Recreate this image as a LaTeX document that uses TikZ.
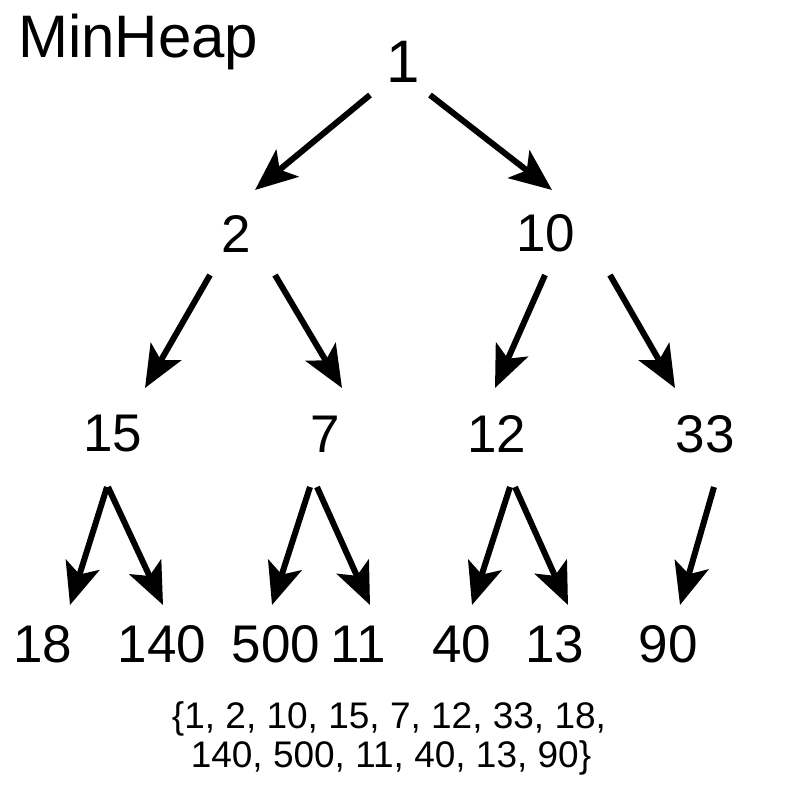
\documentclass[tikz,border=0pt]{standalone}
\usepackage{fontspec}
\setmainfont{Liberation Sans}
\usetikzlibrary{arrows.meta}
\begin{document}
\begin{tikzpicture}[x=1pt,y=-1pt,
  val/.style={inner sep=0pt,font=\fontsize{53}{60}\selectfont},
  conn/.style={line width=6pt,-{Stealth[length=42pt,width=35pt,inset=10pt]}},
  list/.style={inner sep=0pt,anchor=base,font=\fontsize{37}{44}\selectfont}]
\useasboundingbox[fill=white] (0,0) rectangle (800,800);
\node[inner sep=0pt,anchor=base west,font=\fontsize{60}{66}\selectfont] (title) at (18,57) {MinHeap};
\node[val,font=\fontsize{60}{66}\selectfont] (n1) at (403,62) {1};
\node[val] (n2) at (236,234) {2};
\node[val] (n10) at (546,233) {10};
\node[val] (n15) at (113,434) {15};
\node[val] (n7) at (325,434) {7};
\node[val] (n12) at (497,434) {12};
\node[val] (n33) at (705,434) {33};
\node[val] (n18) at (43,644) {18};
\node[val] (n140) at (162,644) {140};
\node[val] (n500) at (276,644) {500};
\node[val] (n11) at (358,644) {11};
\node[val] (n40) at (462,644) {40};
\node[val] (n13) at (555,644) {13};
\node[val] (n90) at (668,644) {90};
\node[list] (l1) at (389,728) {\{1, 2, 10, 15, 7, 12, 33, 18,};
\node[list] (l2) at (391,767) {140, 500, 11, 40, 13, 90\}};
% connector end points
\coordinate (a1) at (370,95);  \coordinate (b1) at (255,190);
\coordinate (a2) at (430,95);  \coordinate (b2) at (552,190);
\coordinate (a3) at (210,275); \coordinate (b3) at (145,388);
\coordinate (a4) at (275,275); \coordinate (b4) at (342,388);
\coordinate (a5) at (545,275); \coordinate (b5) at (495,388);
\coordinate (a6) at (610,275); \coordinate (b6) at (675,388);
\coordinate (a7) at (107,487); \coordinate (b7) at (70,605);
\coordinate (a8) at (108,487); \coordinate (b8) at (163,605);
\coordinate (a9) at (310,487); \coordinate (b9) at (272,605);
\coordinate (a10) at (317,487); \coordinate (b10) at (370,605);
\coordinate (a11) at (510,487); \coordinate (b11) at (472,605);
\coordinate (a12) at (515,487); \coordinate (b12) at (568,605);
\coordinate (a13) at (714,487); \coordinate (b13) at (680,605);
\foreach \i in {1,...,13} \draw[conn] (a\i) -- (b\i);
\end{tikzpicture}
\end{document}
